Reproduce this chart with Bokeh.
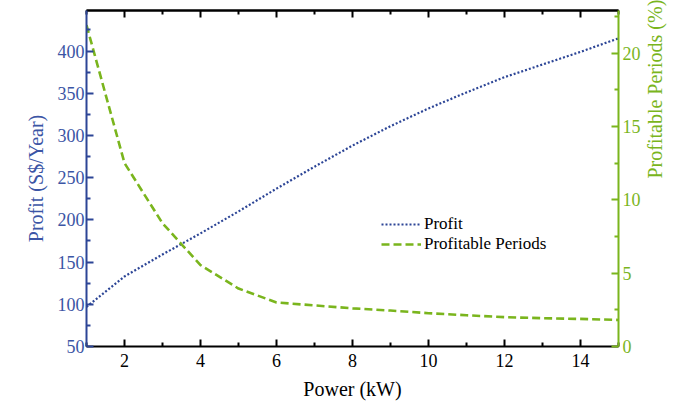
import math
from bokeh.plotting import figure
from bokeh.models import (LinearAxis, Range1d, FixedTicker, Legend, LegendItem,
                          ColumnDataSource)
from bokeh.embed import file_html
from bokeh.resources import INLINE

# ---- data ----
power_kw = [1, 2, 3, 4, 5, 6, 7, 8, 9, 10, 11, 12, 13, 14, 15]
profit = [97, 133, 159, 184, 210, 237, 263, 288, 311, 332, 351, 369, 384, 399, 415]
profitable_periods = [21.9, 12.5, 8.4, 5.55, 3.95, 3.0, 2.8, 2.6, 2.45, 2.27, 2.13, 2.0, 1.93, 1.88, 1.81]

x_major = [2, 4, 6, 8, 10, 12, 14]
x_minor = [1, 3, 5, 7, 9, 11, 13, 15]
left_major = [50, 100, 150, 200, 250, 300, 350, 400]
left_minor = [75, 125, 175, 225, 275, 325, 375, 425]
right_major = [0, 5, 10, 15, 20]
right_minor = [2.5, 7.5, 12.5, 17.5, 22.5]

BLUE = "#2c4596"
BLUE_TXT = "#3b55a5"
GREEN = "#7ab51d"
FONT = "Liberation Serif"

src = ColumnDataSource(dict(x=power_kw, profit=profit, periods=profitable_periods))

p = figure(width=681, height=403, output_backend="svg", toolbar_location=None,
           x_range=Range1d(1, 15), y_range=Range1d(50, 448),
           x_axis_location=None, y_axis_location=None,
           min_border_left=86, min_border_right=63, min_border_top=10, min_border_bottom=57)
p.outline_line_color = None
p.grid.visible = False
p.background_fill_color = "white"
p.border_fill_color = "white"
p.extra_y_ranges = {"pp": Range1d(0, 22.9)}


def style(ax, color, txtcolor):
    ax.axis_line_color = color
    ax.axis_line_width = 2
    ax.major_tick_line_color = color
    ax.minor_tick_line_color = color
    ax.major_tick_line_width = 2
    ax.minor_tick_line_width = 2
    ax.major_tick_in = 7
    ax.major_tick_out = 0
    ax.minor_tick_in = 4
    ax.minor_tick_out = 0
    ax.major_label_text_font = FONT
    ax.major_label_text_font_size = "18px"
    ax.major_label_text_color = txtcolor
    ax.axis_label_text_font = FONT
    ax.axis_label_text_font_size = "20px"
    ax.axis_label_text_font_style = "normal"
    ax.axis_label_text_color = txtcolor


bottom = LinearAxis(axis_label="Power (kW)",
                    ticker=FixedTicker(ticks=x_major, minor_ticks=x_minor))
style(bottom, "black", "black")
bottom.major_label_standoff = 7
bottom.axis_label_standoff = 8
p.add_layout(bottom, "below")

# top frame edge: long ticks at even values, short ticks at odd values, no labels
top_long = LinearAxis(ticker=FixedTicker(ticks=[], minor_ticks=x_major))
style(top_long, "black", "black")
top_long.minor_tick_in = 7
top_long.major_label_standoff = 0
p.add_layout(top_long, "above")
top_short = LinearAxis(ticker=FixedTicker(ticks=[], minor_ticks=x_minor))
style(top_short, "black", "black")
top_short.major_label_standoff = 0
p.add_layout(top_short, "above")

left = LinearAxis(axis_label="Profit (S$/Year)",
                  ticker=FixedTicker(ticks=left_major, minor_ticks=left_minor))
style(left, BLUE, BLUE_TXT)
left.major_label_standoff = 2
left.axis_label_standoff = 8
p.add_layout(left, "left")

right = LinearAxis(y_range_name="pp", axis_label="Profitable Periods (%)",
                   ticker=FixedTicker(ticks=right_major, minor_ticks=right_minor))
style(right, GREEN, GREEN)
right.major_label_standoff = 4
right.axis_label_standoff = 11
right.axis_label_orientation = math.pi / 2
p.add_layout(right, "right")

r1 = p.line("x", "profit", source=src, line_color=BLUE, line_width=2.2,
            line_dash="2 2")
r2 = p.line("x", "periods", source=src, y_range_name="pp", line_color=GREEN,
            line_width=2.6, line_dash="8 4")

legend = Legend(items=[LegendItem(label="Profit", renderers=[r1]),
                       LegendItem(label="Profitable Periods", renderers=[r2])],
                location=(295, 92), orientation="vertical")
legend.background_fill_alpha = 0
legend.border_line_color = None
legend.padding = 0
legend.margin = 0
legend.spacing = 0
legend.glyph_width = 40
legend.glyph_height = 20
legend.label_height = 20
legend.label_standoff = 3
legend.label_text_font = FONT
legend.label_text_font_size = "17px"
legend.label_text_color = "black"
p.add_layout(legend, "center")

open("out.html", "w").write(file_html(p, INLINE))
